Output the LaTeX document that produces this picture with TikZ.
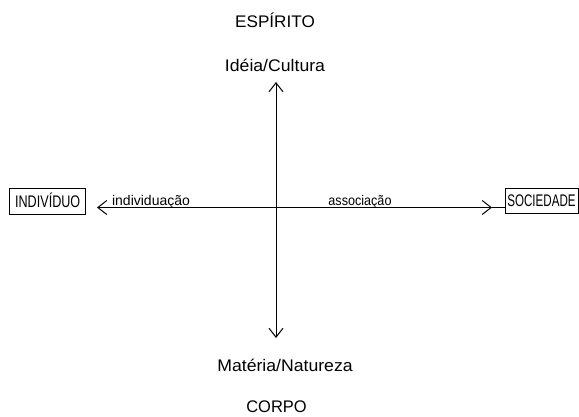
\documentclass[tikz,border=0pt]{standalone}
\usepackage{fontspec}
\setmainfont{Liberation Sans}
\usetikzlibrary{arrows.meta}
\tikzset{
  lbl/.style={inner sep=0pt, anchor=base, font=\fontsize{16.8pt}{18pt}\selectfont},
  small/.style={inner sep=0pt, anchor=base, font=\fontsize{14pt}{16pt}\selectfont},
  boxlbl/.style={draw, line width=1pt, inner sep=0pt, text height=12pt, text depth=0pt,
    font=\fontsize{16.8pt}{18pt}\selectfont},
  axis/.style={line width=1pt},
  tip/.style={-{Straight Barb[length=9pt,width=14pt,line width=1pt]}}
}
\begin{document}
\begin{tikzpicture}[x=1pt,y=-1pt]
\useasboundingbox (0,0) rectangle (579,416);
% texts
\node[lbl] (esp) at (275,27) {\scalebox{1.02}[1]{ESPÍRITO}};
\node[lbl] (idea) at (275,71) {\scalebox{1.05}[1]{Idéia/Cultura}};
\node[lbl] (mat) at (285,371.5) {\scalebox{1.05}[1]{Matéria/Natureza}};
\node[lbl] (corpo) at (276.5,412) {\scalebox{0.98}[1]{CORPO}};
% boxes
\node[boxlbl, minimum width=76.5pt, minimum height=26pt] (ind) at (47.7,201) {\scalebox{0.75}[1]{INDIVÍDUO}};
\node[boxlbl, minimum width=73pt, minimum height=25pt] (soc) at (541.5,200.5) {\scalebox{0.69}[1]{SOCIEDADE}};
% axes
\coordinate (O) at (276,207.5);
\coordinate (top) at (276,82);
\coordinate (bot) at (276,338);
\coordinate (left) at (97,207.5);
\coordinate (right) at (492,207.5);
\draw[axis,tip] (O) -- (top);
\draw[axis,tip] (O) -- (bot);
\draw[axis,tip] (O) -- (left);
\draw[axis,tip] (O) -- (right);
\draw[axis] (right) -- (soc.west |- right);
% axis labels
\node[small] (indv) at (151,205) {individuação};
\node[small] (assoc) at (360,205) {\scalebox{0.9}[1]{associação}};
\end{tikzpicture}
\end{document}
